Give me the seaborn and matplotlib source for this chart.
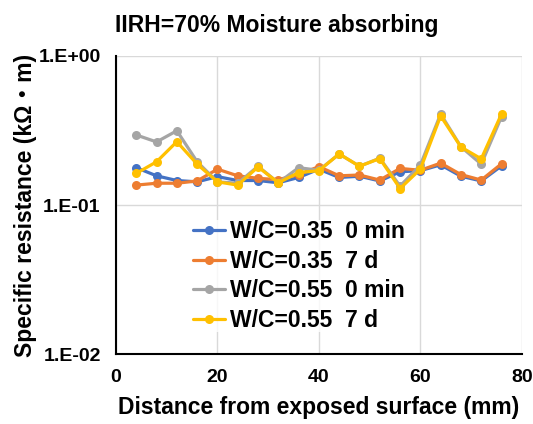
import numpy as np
import pandas as pd
import matplotlib
matplotlib.use('Agg')
import matplotlib.pyplot as plt
import seaborn as sns
from matplotlib.ticker import FixedLocator, FuncFormatter, NullLocator

# distance from exposed surface (mm)
distance = [4, 8, 12, 16, 20, 24, 28, 32, 36, 40, 44, 48, 52, 56, 60, 64, 68, 72, 76]

# specific resistance (kOhm m)
wc035_0min = [0.178, 0.157, 0.146, 0.143, 0.155, 0.146, 0.146, 0.141, 0.153, 0.174,
              0.153, 0.156, 0.145, 0.167, 0.170, 0.186, 0.156, 0.145, 0.183]
wc035_7d = [0.136, 0.140, 0.140, 0.145, 0.174, 0.157, 0.151, 0.148, 0.160, 0.181,
            0.157, 0.159, 0.147, 0.176, 0.171, 0.191, 0.160, 0.147, 0.189]
wc055_0min = [0.295, 0.265, 0.315, 0.195, 0.143, 0.140, 0.182, 0.141, 0.178, 0.171,
              0.220, 0.182, 0.206, 0.134, 0.185, 0.408, 0.246, 0.188, 0.391]
wc055_7d = [0.163, 0.195, 0.266, 0.188, 0.143, 0.136, 0.180, 0.141, 0.165, 0.170,
            0.220, 0.182, 0.205, 0.129, 0.174, 0.396, 0.245, 0.204, 0.408]

labels = ['W/C=0.35  0 min', 'W/C=0.35  7 d', 'W/C=0.55  0 min', 'W/C=0.55  7 d']
colors = ['#4472C4', '#ED7D31', '#A5A5A5', '#FFC000']
series = [wc035_0min, wc035_7d, wc055_0min, wc055_7d]

sns.set_style('white')
plt.rcParams['font.family'] = ['Liberation Sans', 'Noto Sans CJK JP', 'DejaVu Sans']
plt.rcParams['font.weight'] = 'bold'
plt.rcParams['text.color'] = 'black'
plt.rcParams['axes.labelcolor'] = 'black'
plt.rcParams['xtick.color'] = 'black'
plt.rcParams['ytick.color'] = 'black'

fig = plt.figure(figsize=(5.33, 4.24), dpi=100)
ax = fig.add_axes([0.2176, 0.165, 0.7614, 0.703])

for lab, col, vals in zip(labels, colors, series):
    df = pd.DataFrame({'x': distance, 'y': vals})
    sns.lineplot(data=df, x='x', y='y', ax=ax, color=col, label=lab,
                 marker='o', markersize=6.5, markeredgewidth=0, linewidth=2.3)

ax.set_yscale('log')
ax.set_ylim(0.01, 1)
ax.set_xlim(0, 80)
ax.set_xticks([0, 20, 40, 60, 80])
ax.yaxis.set_major_locator(FixedLocator([0.01, 0.1, 1]))
ax.yaxis.set_minor_locator(NullLocator())
ax.yaxis.set_major_formatter(FuncFormatter(lambda v, p: {0.01: '1.E-02', 0.1: '1.E-01', 1: '1.E+00'}.get(round(v, 2), '')))
ax.grid(True, color='#D9D9D9', linewidth=1)
ax.tick_params(length=0, pad=11, labelsize=14)
for t in ax.get_xticklabels() + ax.get_yticklabels():
    t.set_fontweight('bold')

for s in ['top', 'right']:
    ax.spines[s].set_visible(False)
for s in ['left', 'bottom']:
    ax.spines[s].set_color('black')
    ax.spines[s].set_linewidth(1.5)

ax.set_xlabel('Distance from exposed surface (mm)', fontsize=16.5, fontweight='bold', labelpad=7)
ax.set_ylabel('Specific resistance (kΩ・m)', fontsize=16.5, fontweight='bold', labelpad=1)
fig.text(0.52, 0.94, 'IIRH=70% Moisture absorbing', ha='center', va='center',
         fontsize=16.5, fontweight='bold')

leg = ax.legend(loc='upper left', bbox_to_anchor=(0.19, 0.45), frameon=True,
                fontsize=16.5, handlelength=1.4, handletextpad=0.2,
                labelspacing=0.29, borderpad=0, borderaxespad=0)
leg.get_frame().set_facecolor('white')
leg.get_frame().set_edgecolor('none')
for t in leg.get_texts():
    t.set_fontweight('bold')

fig.savefig('out.png', dpi=100)
